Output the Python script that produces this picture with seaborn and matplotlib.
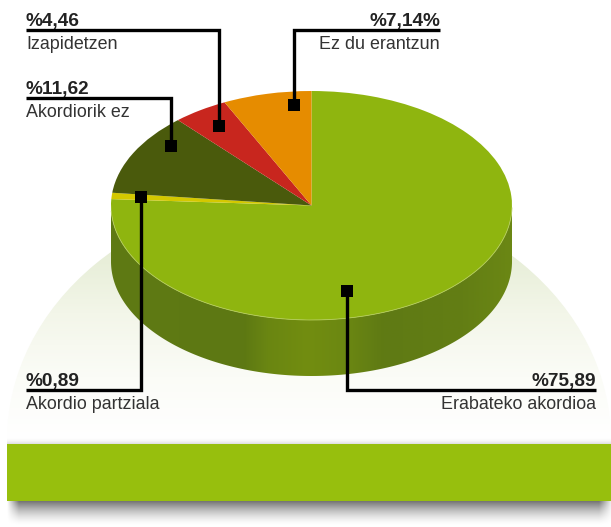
import numpy as np
import pandas as pd
import seaborn as sns
import matplotlib
matplotlib.use("Agg")
import matplotlib.pyplot as plt
from matplotlib.colors import LinearSegmentedColormap
from matplotlib.patches import Polygon, Ellipse

# ---- data ----
categories = ["Erabateko akordioa", "Akordio partziala", "Akordiorik ez", "Izapidetzen", "Ez du erantzun"]
values = [75.89, 0.89, 11.62, 4.46, 7.14]
value_labels = ["%75,89", "%0,89", "%11,62", "%4,46", "%7,14%"]
slice_colors = ["#8fb50f", "#d4c800", "#4a5a0c", "#c8261e", "#e68c00"]

W, H = 611, 527
sns.set_theme(style="white")
plt.rcParams["font.family"] = ["Liberation Sans", "DejaVu Sans"]

fig = plt.figure(figsize=(W / 100, H / 100), dpi=100, facecolor="white")
ax = fig.add_axes([0, 0, 1, 1], zorder=1)
ax.set_xlim(0, W)
ax.set_ylim(H, 0)
ax.axis("off")

# pie geometry in pixels
cx, cy, rx, ry, depth = 311.5, 205.5, 200.5, 114.5, 56

# background dome with vertical gradient
dome_cmap = LinearSegmentedColormap.from_list("dome", ["#e6edd6", "#f3f6e9", "#fbfcf7", "#ffffff"])
grad = np.linspace(0, 1, 256).reshape(-1, 1)
im = ax.imshow(grad, extent=(0, W, 440, 250), cmap=dome_cmap, aspect="auto", zorder=1)
dome = Ellipse((309, 440), 2 * 302, 2 * 249, transform=ax.transData, fc="none", ec="none")
ax.add_patch(dome)
im.set_clip_path(dome)

# shadows around the band
xs = np.arange(W) + 0.5
edge = np.clip((xs - 7) / 12, 0, 1) * np.clip((W + 2 - xs) / 14, 0, 1)
ys = np.linspace(0, 1, 60)
alpha = (1 - ys)[:, None] ** 1.6 * (0.55 * edge[None, :])
alpha[:, xs < 7] = 0
rgba = np.zeros(alpha.shape + (4,))
rgba[..., 3] = alpha
ax.imshow(rgba, extent=(0, W, 526, 501), aspect="auto", zorder=2)
top_alpha = (np.linspace(0, 1, 20) ** 2)[:, None] * 0.13 * np.ones((1, W))
top_alpha[:, xs < 7] = 0
rgba2 = np.zeros(top_alpha.shape + (4,))
rgba2[..., 3] = top_alpha
ax.imshow(rgba2, extent=(0, W, 444, 437), aspect="auto", zorder=2)

# green band
ax.fill_between([7, W], 444, 501, color="#97bf0d", lw=0, zorder=3)

# cylinder side with horizontal shading
side_cmap = LinearSegmentedColormap.from_list(
    "side",
    [(0, "#5f7a14"), (0.33, "#5d7813"), (0.39, "#6a8612"), (0.49, "#728d10"), (0.58, "#6c8812"),
     (0.68, "#5f7a14"), (0.88, "#637e14"), (1, "#6b8714")],
)
ims = ax.imshow(np.linspace(0, 1, 400).reshape(1, -1), extent=(cx - rx, cx + rx, cy + ry + depth + 1, cy - 5),
                cmap=side_cmap, aspect="auto", zorder=4)
t = np.linspace(0, np.pi, 200)
ex, ey = cx + rx * np.cos(t), cy + ry * np.sin(t)
side_poly = Polygon(np.r_[np.c_[ex, ey], np.c_[ex[::-1], ey[::-1] + depth]], closed=True,
                    transform=ax.transData, fc="none", ec="none")
ax.add_patch(side_poly)
ims.set_clip_path(side_poly)

# top face: a real pie squeezed into the ellipse's box
pie_ax = fig.add_axes([(cx - rx) / W, 1 - (cy + ry) / H, 2 * rx / W, 2 * ry / H], zorder=2)
wedges, _ = pie_ax.pie(values, colors=sns.color_palette(slice_colors), startangle=90, counterclock=False,
                       radius=1, wedgeprops={"linewidth": 0, "clip_on": False})
pie_ax.set_aspect("auto")
pie_ax.set_xlim(-1, 1)
pie_ax.set_ylim(-1, 1)
pie_ax.axis("off")
pie_ax.patch.set_alpha(0)

# light rim along the front of the top face
rim_ax = fig.add_axes([0, 0, 1, 1], zorder=3)
rim_ax.set_xlim(0, W)
rim_ax.set_ylim(H, 0)
rim_ax.axis("off")
rim_ax.patch.set_alpha(0)
rim_t = np.linspace(0.02, np.pi - 0.05, 200)
rim_ax.plot(cx + rx * np.cos(rim_t), cy + ry * np.sin(rim_t), color="#b4cc5a", lw=0.6, zorder=1)

# leaders: (anchor x, anchor y, elbow y, end x) layout per label
layout = {
    "Erabateko akordioa": (347, 291, 390, 596, "right"),
    "Akordio partziala": (141, 197, 390, 26, "left"),
    "Akordiorik ez": (171, 146, 98, 26, "left"),
    "Izapidetzen": (219, 126, 30, 26, "left"),
    "Ez du erantzun": (294, 105, 30, 440, "right"),
}
for cat, lab in zip(categories, value_labels):
    mx, my, ly, ex_, ha = layout[cat]
    df = pd.DataFrame({"x": [mx, mx, ex_], "y": [my, ly, ly]})
    sns.lineplot(data=df, x="x", y="y", sort=False, estimator=None, color="black", lw=2.4,
                 solid_joinstyle="miter", solid_capstyle="butt", ax=rim_ax, zorder=5)
    sns.scatterplot(x=[mx], y=[my], marker="s", s=75, color="black", linewidth=0, ax=rim_ax, zorder=6)
    rim_ax.text(ex_, ly - 3.8, lab, ha=ha, va="baseline", fontsize=13.7, fontweight="bold", color="#222222")
    rim_ax.text(ex_, ly + 18.8, cat, ha=ha, va="baseline", fontsize=12.9, color="#333333")

rim_ax.set_xlabel("")
rim_ax.set_ylabel("")
rim_ax.set_xlim(0, W)
rim_ax.set_ylim(H, 0)

fig.savefig("out.png", dpi=100, facecolor="white")
